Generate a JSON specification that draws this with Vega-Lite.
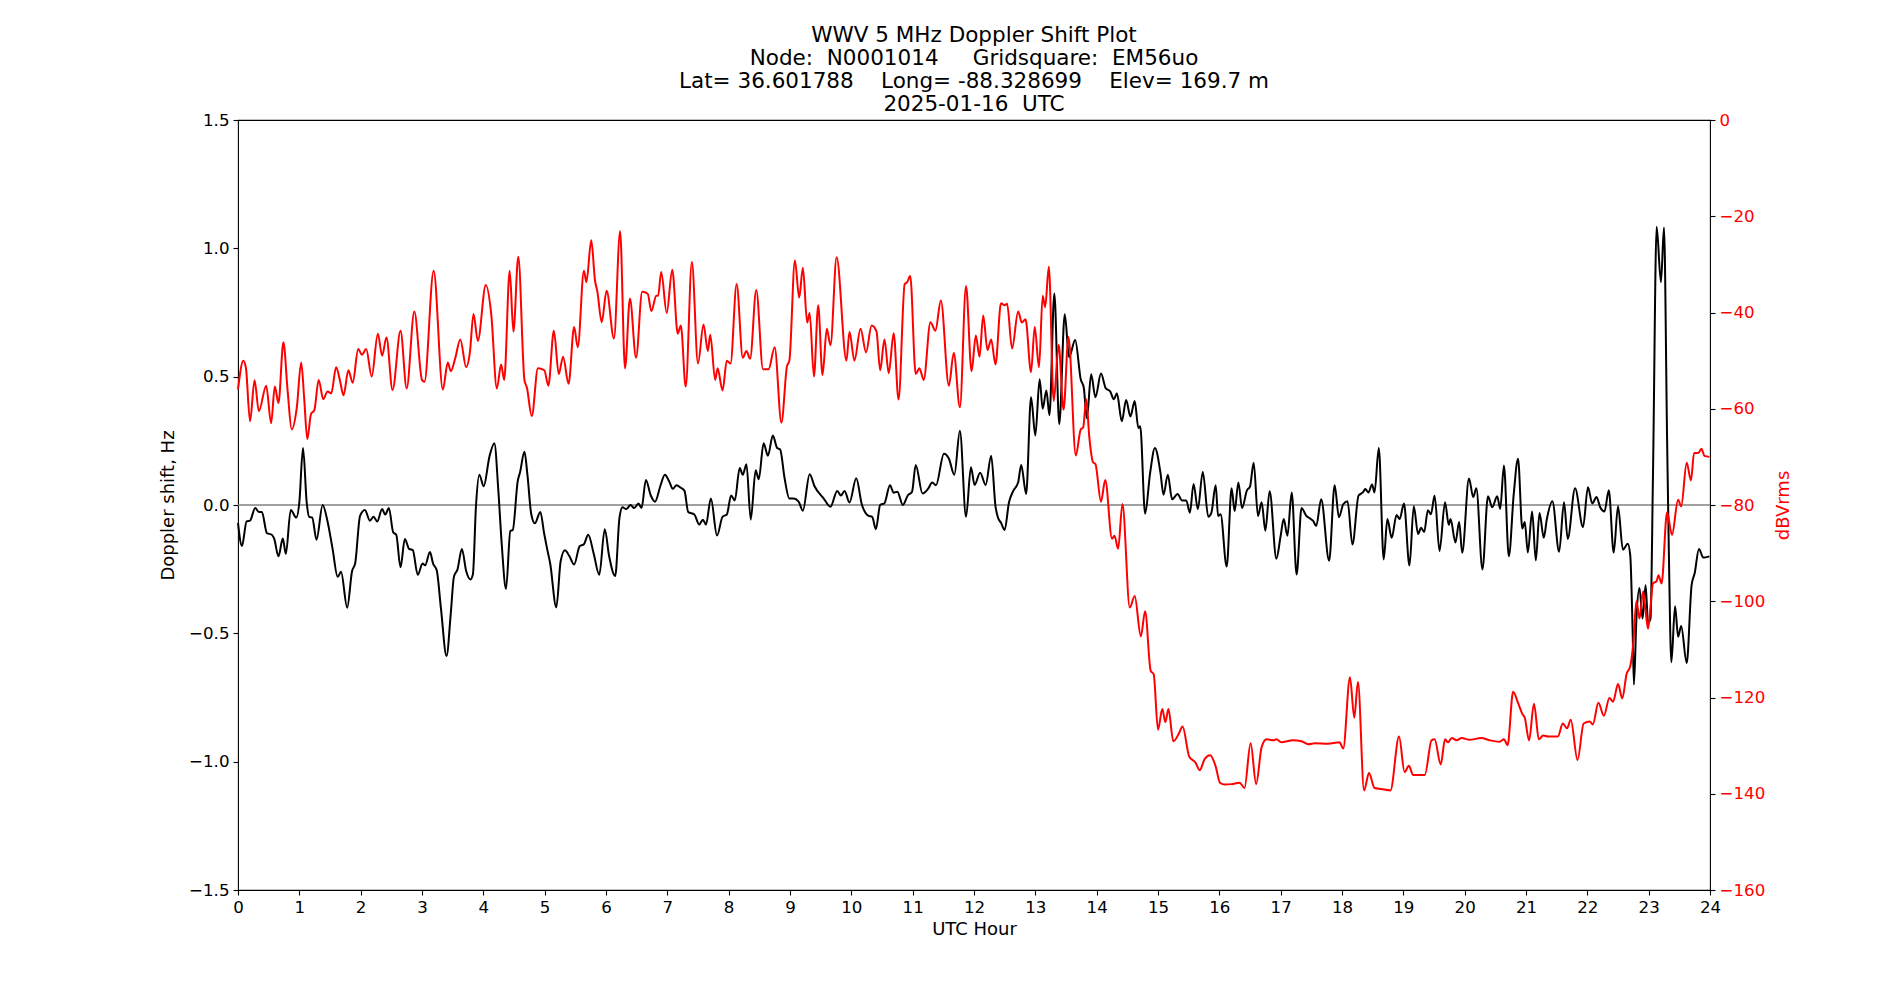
{
  "$schema": "https://vega.github.io/schema/vega-lite/v6.json",
  "width": 1472,
  "height": 770,
  "autosize": {"type": "none"},
  "padding": {"left": 238, "top": 120, "right": 190, "bottom": 110},
  "background": "white",
  "title": {
    "text": ["WWV 5 MHz Doppler Shift Plot", "Node:\u00a0\u00a0N0001014\u00a0\u00a0\u00a0\u00a0\u00a0Gridsquare:\u00a0\u00a0EM56uo", "Lat=\u00a036.601788\u00a0\u00a0\u00a0\u00a0Long=\u00a0-88.328699\u00a0\u00a0\u00a0\u00a0Elev=\u00a0169.7\u00a0m", "2025-01-16\u00a0\u00a0UTC"],
    "font": "DejaVu Sans",
    "fontSize": 21.5,
    "fontWeight": "normal",
    "color": "black",
    "lineHeight": 23,
    "anchor": "middle",
    "frame": "group",
    "baseline": "bottom",
    "offset": 4,
    "dy": 29
  },
  "config": {
    "view": {"stroke": "black", "strokeWidth": 1.1},
    "axis": {
      "labelFont": "DejaVu Sans",
      "labelFontSize": 16.67,
      "labelColor": "black",
      "titleFont": "DejaVu Sans",
      "titleFontSize": 18,
      "titleFontWeight": "normal",
      "titleColor": "black",
      "tickColor": "black",
      "tickSize": 5,
      "tickWidth": 1.1,
      "labelPadding": 4,
      "grid": false,
      "domain": false
    }
  },
  "datasets": {
    "doppler": [
      {"hour": 0, "shift": -0.07}, {"hour": 0.065, "shift": -0.16}, {"hour": 0.14, "shift": -0.064}, {"hour": 0.196, "shift": -0.061},
      {"hour": 0.28, "shift": -0.012}, {"hour": 0.34, "shift": -0.027}, {"hour": 0.39, "shift": -0.027}, {"hour": 0.47, "shift": -0.109},
      {"hour": 0.55, "shift": -0.116}, {"hour": 0.59, "shift": -0.131}, {"hour": 0.66, "shift": -0.2}, {"hour": 0.73, "shift": -0.131},
      {"hour": 0.78, "shift": -0.19}, {"hour": 0.86, "shift": -0.019}, {"hour": 0.95, "shift": -0.049}, {"hour": 1.0, "shift": 0.01},
      {"hour": 1.06, "shift": 0.222}, {"hour": 1.12, "shift": 0.01}, {"hour": 1.16, "shift": -0.046}, {"hour": 1.21, "shift": -0.049},
      {"hour": 1.28, "shift": -0.135}, {"hour": 1.38, "shift": 0.0}, {"hour": 1.46, "shift": -0.064}, {"hour": 1.54, "shift": -0.168},
      {"hour": 1.625, "shift": -0.28}, {"hour": 1.68, "shift": -0.26}, {"hour": 1.78, "shift": -0.4}, {"hour": 1.86, "shift": -0.257},
      {"hour": 1.91, "shift": -0.228}, {"hour": 1.99, "shift": -0.042}, {"hour": 2.07, "shift": -0.019}, {"hour": 2.15, "shift": -0.061},
      {"hour": 2.21, "shift": -0.046}, {"hour": 2.27, "shift": -0.064}, {"hour": 2.35, "shift": -0.016}, {"hour": 2.4, "shift": -0.037},
      {"hour": 2.46, "shift": -0.012}, {"hour": 2.53, "shift": -0.106}, {"hour": 2.58, "shift": -0.116}, {"hour": 2.65, "shift": -0.243},
      {"hour": 2.72, "shift": -0.132}, {"hour": 2.79, "shift": -0.171}, {"hour": 2.85, "shift": -0.176}, {"hour": 2.93, "shift": -0.272},
      {"hour": 3.01, "shift": -0.228}, {"hour": 3.05, "shift": -0.235}, {"hour": 3.13, "shift": -0.183}, {"hour": 3.18, "shift": -0.228},
      {"hour": 3.24, "shift": -0.254}, {"hour": 3.31, "shift": -0.406}, {"hour": 3.4, "shift": -0.588}, {"hour": 3.47, "shift": -0.42},
      {"hour": 3.52, "shift": -0.28}, {"hour": 3.58, "shift": -0.25}, {"hour": 3.65, "shift": -0.171}, {"hour": 3.72, "shift": -0.257},
      {"hour": 3.79, "shift": -0.29}, {"hour": 3.83, "shift": -0.27}, {"hour": 3.88, "shift": -0.004}, {"hour": 3.935, "shift": 0.118},
      {"hour": 4.006, "shift": 0.073}, {"hour": 4.1, "shift": 0.189}, {"hour": 4.18, "shift": 0.241}, {"hour": 4.245, "shift": 0.055},
      {"hour": 4.3, "shift": -0.153}, {"hour": 4.37, "shift": -0.327}, {"hour": 4.44, "shift": -0.101}, {"hour": 4.48, "shift": -0.097},
      {"hour": 4.56, "shift": 0.092}, {"hour": 4.6, "shift": 0.129}, {"hour": 4.67, "shift": 0.207}, {"hour": 4.72, "shift": 0.115},
      {"hour": 4.78, "shift": -0.034}, {"hour": 4.84, "shift": -0.071}, {"hour": 4.93, "shift": -0.027}, {"hour": 4.99, "shift": -0.109},
      {"hour": 5.04, "shift": -0.171}, {"hour": 5.09, "shift": -0.228}, {"hour": 5.19, "shift": -0.399}, {"hour": 5.26, "shift": -0.22},
      {"hour": 5.33, "shift": -0.176}, {"hour": 5.4, "shift": -0.198}, {"hour": 5.48, "shift": -0.232}, {"hour": 5.57, "shift": -0.161},
      {"hour": 5.64, "shift": -0.153}, {"hour": 5.71, "shift": -0.116}, {"hour": 5.8, "shift": -0.19}, {"hour": 5.89, "shift": -0.272},
      {"hour": 5.98, "shift": -0.094}, {"hour": 6.05, "shift": -0.198}, {"hour": 6.15, "shift": -0.277}, {"hour": 6.22, "shift": -0.049},
      {"hour": 6.27, "shift": -0.009}, {"hour": 6.33, "shift": -0.016}, {"hour": 6.4, "shift": 0.0}, {"hour": 6.46, "shift": -0.012},
      {"hour": 6.53, "shift": 0.006}, {"hour": 6.58, "shift": -0.012}, {"hour": 6.65, "shift": 0.097}, {"hour": 6.73, "shift": 0.037},
      {"hour": 6.8, "shift": 0.013}, {"hour": 6.89, "shift": 0.077}, {"hour": 6.96, "shift": 0.118}, {"hour": 7.03, "shift": 0.092},
      {"hour": 7.09, "shift": 0.063}, {"hour": 7.15, "shift": 0.077}, {"hour": 7.22, "shift": 0.067}, {"hour": 7.28, "shift": 0.055},
      {"hour": 7.34, "shift": -0.027}, {"hour": 7.44, "shift": -0.037}, {"hour": 7.52, "shift": -0.076}, {"hour": 7.58, "shift": -0.057},
      {"hour": 7.63, "shift": -0.076}, {"hour": 7.71, "shift": 0.025}, {"hour": 7.81, "shift": -0.119}, {"hour": 7.9, "shift": -0.046},
      {"hour": 7.97, "shift": -0.037}, {"hour": 8.04, "shift": 0.037}, {"hour": 8.1, "shift": 0.018}, {"hour": 8.18, "shift": 0.144},
      {"hour": 8.23, "shift": 0.118}, {"hour": 8.29, "shift": 0.159}, {"hour": 8.36, "shift": -0.057}, {"hour": 8.44, "shift": 0.135},
      {"hour": 8.49, "shift": 0.1}, {"hour": 8.57, "shift": 0.241}, {"hour": 8.64, "shift": 0.192}, {"hour": 8.72, "shift": 0.271},
      {"hour": 8.79, "shift": 0.222}, {"hour": 8.84, "shift": 0.216}, {"hour": 8.91, "shift": 0.107}, {"hour": 8.99, "shift": 0.025},
      {"hour": 9.06, "shift": 0.025}, {"hour": 9.14, "shift": 0.013}, {"hour": 9.21, "shift": -0.022}, {"hour": 9.32, "shift": 0.12},
      {"hour": 9.4, "shift": 0.073}, {"hour": 9.55, "shift": 0.025}, {"hour": 9.66, "shift": -0.007}, {"hour": 9.77, "shift": 0.055},
      {"hour": 9.83, "shift": 0.037}, {"hour": 9.89, "shift": 0.055}, {"hour": 9.97, "shift": 0.01}, {"hour": 10.08, "shift": 0.104},
      {"hour": 10.17, "shift": 0.003}, {"hour": 10.28, "shift": -0.042}, {"hour": 10.34, "shift": -0.046}, {"hour": 10.4, "shift": -0.094},
      {"hour": 10.47, "shift": 0.0}, {"hour": 10.54, "shift": 0.007}, {"hour": 10.63, "shift": 0.077}, {"hour": 10.69, "shift": 0.048},
      {"hour": 10.75, "shift": 0.052}, {"hour": 10.84, "shift": 0.0}, {"hour": 10.92, "shift": 0.037}, {"hour": 10.99, "shift": 0.052},
      {"hour": 11.05, "shift": 0.156}, {"hour": 11.16, "shift": 0.045}, {"hour": 11.25, "shift": 0.063}, {"hour": 11.32, "shift": 0.088},
      {"hour": 11.38, "shift": 0.077}, {"hour": 11.51, "shift": 0.2}, {"hour": 11.59, "shift": 0.181}, {"hour": 11.68, "shift": 0.118},
      {"hour": 11.77, "shift": 0.289}, {"hour": 11.87, "shift": -0.046}, {"hour": 11.95, "shift": 0.147}, {"hour": 12.01, "shift": 0.078},
      {"hour": 12.1, "shift": 0.126}, {"hour": 12.19, "shift": 0.078}, {"hour": 12.28, "shift": 0.192}, {"hour": 12.35, "shift": -0.004},
      {"hour": 12.39, "shift": -0.049}, {"hour": 12.44, "shift": -0.069}, {"hour": 12.5, "shift": -0.097}, {"hour": 12.57, "shift": 0.01},
      {"hour": 12.64, "shift": 0.055}, {"hour": 12.72, "shift": 0.089}, {"hour": 12.77, "shift": 0.156}, {"hour": 12.85, "shift": 0.043},
      {"hour": 12.93, "shift": 0.42}, {"hour": 13.0, "shift": 0.271}, {"hour": 13.07, "shift": 0.49}, {"hour": 13.12, "shift": 0.375},
      {"hour": 13.18, "shift": 0.446}, {"hour": 13.23, "shift": 0.35}, {"hour": 13.31, "shift": 0.824}, {"hour": 13.39, "shift": 0.315},
      {"hour": 13.48, "shift": 0.743}, {"hour": 13.55, "shift": 0.576}, {"hour": 13.65, "shift": 0.643}, {"hour": 13.74, "shift": 0.49},
      {"hour": 13.79, "shift": 0.457}, {"hour": 13.84, "shift": 0.338}, {"hour": 13.91, "shift": 0.509}, {"hour": 13.98, "shift": 0.42},
      {"hour": 14.07, "shift": 0.512}, {"hour": 14.15, "shift": 0.454}, {"hour": 14.22, "shift": 0.443}, {"hour": 14.28, "shift": 0.412},
      {"hour": 14.33, "shift": 0.435}, {"hour": 14.41, "shift": 0.326}, {"hour": 14.48, "shift": 0.409}, {"hour": 14.55, "shift": 0.345},
      {"hour": 14.62, "shift": 0.405}, {"hour": 14.68, "shift": 0.3}, {"hour": 14.71, "shift": 0.307}, {"hour": 14.79, "shift": -0.034},
      {"hour": 14.87, "shift": 0.122}, {"hour": 14.95, "shift": 0.222}, {"hour": 15.04, "shift": 0.126}, {"hour": 15.09, "shift": 0.04},
      {"hour": 15.16, "shift": 0.118}, {"hour": 15.23, "shift": 0.022}, {"hour": 15.32, "shift": 0.043}, {"hour": 15.39, "shift": 0.018},
      {"hour": 15.46, "shift": 0.018}, {"hour": 15.52, "shift": -0.03}, {"hour": 15.58, "shift": 0.082}, {"hour": 15.65, "shift": -0.016},
      {"hour": 15.73, "shift": 0.129}, {"hour": 15.82, "shift": -0.046}, {"hour": 15.87, "shift": -0.031}, {"hour": 15.94, "shift": 0.077},
      {"hour": 15.98, "shift": -0.043}, {"hour": 16.02, "shift": -0.036}, {"hour": 16.12, "shift": -0.24}, {"hour": 16.2, "shift": 0.065},
      {"hour": 16.25, "shift": -0.023}, {"hour": 16.31, "shift": 0.088}, {"hour": 16.37, "shift": -0.012}, {"hour": 16.45, "shift": 0.057},
      {"hour": 16.5, "shift": 0.072}, {"hour": 16.56, "shift": 0.165}, {"hour": 16.63, "shift": -0.043}, {"hour": 16.69, "shift": 0.011},
      {"hour": 16.75, "shift": -0.1}, {"hour": 16.82, "shift": 0.054}, {"hour": 16.93, "shift": -0.209}, {"hour": 17.0, "shift": -0.12},
      {"hour": 17.05, "shift": -0.055}, {"hour": 17.11, "shift": -0.12}, {"hour": 17.18, "shift": 0.049}, {"hour": 17.26, "shift": -0.271},
      {"hour": 17.34, "shift": -0.012}, {"hour": 17.42, "shift": -0.043}, {"hour": 17.47, "shift": -0.051}, {"hour": 17.53, "shift": -0.062},
      {"hour": 17.58, "shift": -0.082}, {"hour": 17.66, "shift": 0.022}, {"hour": 17.79, "shift": -0.217}, {"hour": 17.88, "shift": 0.077},
      {"hour": 17.95, "shift": -0.048}, {"hour": 18.02, "shift": 0.003}, {"hour": 18.09, "shift": 0.015}, {"hour": 18.17, "shift": -0.154},
      {"hour": 18.27, "shift": 0.037}, {"hour": 18.34, "shift": 0.049}, {"hour": 18.38, "shift": 0.062}, {"hour": 18.43, "shift": 0.049},
      {"hour": 18.49, "shift": 0.08}, {"hour": 18.53, "shift": 0.049}, {"hour": 18.6, "shift": 0.222}, {"hour": 18.68, "shift": -0.212},
      {"hour": 18.74, "shift": -0.055}, {"hour": 18.81, "shift": -0.128}, {"hour": 18.89, "shift": -0.039}, {"hour": 18.94, "shift": -0.055},
      {"hour": 19.01, "shift": 0.006}, {"hour": 19.1, "shift": -0.236}, {"hour": 19.17, "shift": -0.005}, {"hour": 19.24, "shift": -0.113},
      {"hour": 19.29, "shift": -0.089}, {"hour": 19.34, "shift": -0.105}, {"hour": 19.4, "shift": -0.02}, {"hour": 19.45, "shift": -0.036},
      {"hour": 19.51, "shift": 0.037}, {"hour": 19.59, "shift": -0.179}, {"hour": 19.68, "shift": 0.011}, {"hour": 19.74, "shift": -0.077},
      {"hour": 19.77, "shift": -0.055}, {"hour": 19.85, "shift": -0.146}, {"hour": 19.91, "shift": -0.066}, {"hour": 19.96, "shift": -0.186},
      {"hour": 20.07, "shift": 0.103}, {"hour": 20.14, "shift": 0.031}, {"hour": 20.19, "shift": 0.065}, {"hour": 20.29, "shift": -0.251},
      {"hour": 20.38, "shift": 0.034}, {"hour": 20.45, "shift": -0.009}, {"hour": 20.53, "shift": 0.034}, {"hour": 20.58, "shift": -0.015},
      {"hour": 20.64, "shift": 0.154}, {"hour": 20.72, "shift": -0.2}, {"hour": 20.8, "shift": 0.042}, {"hour": 20.87, "shift": 0.18},
      {"hour": 20.94, "shift": -0.092}, {"hour": 20.98, "shift": -0.066}, {"hour": 21.03, "shift": -0.185}, {"hour": 21.1, "shift": -0.025},
      {"hour": 21.16, "shift": -0.216}, {"hour": 21.22, "shift": -0.031}, {"hour": 21.29, "shift": -0.128}, {"hour": 21.34, "shift": -0.055},
      {"hour": 21.43, "shift": 0.015}, {"hour": 21.54, "shift": -0.182}, {"hour": 21.62, "shift": 0.011}, {"hour": 21.68, "shift": -0.132},
      {"hour": 21.8, "shift": 0.065}, {"hour": 21.93, "shift": -0.086}, {"hour": 22.01, "shift": 0.069}, {"hour": 22.08, "shift": 0.006},
      {"hour": 22.15, "shift": 0.031}, {"hour": 22.21, "shift": -0.009}, {"hour": 22.28, "shift": -0.025}, {"hour": 22.35, "shift": 0.057},
      {"hour": 22.43, "shift": -0.186}, {"hour": 22.5, "shift": -0.005}, {"hour": 22.58, "shift": -0.174}, {"hour": 22.66, "shift": -0.151},
      {"hour": 22.7, "shift": -0.197}, {"hour": 22.74, "shift": -0.505}, {"hour": 22.76, "shift": -0.7}, {"hour": 22.8, "shift": -0.443},
      {"hour": 22.85, "shift": -0.323}, {"hour": 22.9, "shift": -0.443}, {"hour": 22.95, "shift": -0.313}, {"hour": 22.99, "shift": -0.459},
      {"hour": 23.03, "shift": -0.443}, {"hour": 23.07, "shift": 0.111}, {"hour": 23.13, "shift": 1.084}, {"hour": 23.2, "shift": 0.868},
      {"hour": 23.25, "shift": 1.081}, {"hour": 23.3, "shift": 0.265}, {"hour": 23.33, "shift": -0.197}, {"hour": 23.37, "shift": -0.613},
      {"hour": 23.43, "shift": -0.394}, {"hour": 23.48, "shift": -0.513}, {"hour": 23.53, "shift": -0.471}, {"hour": 23.62, "shift": -0.616},
      {"hour": 23.7, "shift": -0.312}, {"hour": 23.75, "shift": -0.266}, {"hour": 23.82, "shift": -0.171}, {"hour": 23.89, "shift": -0.205},
      {"hour": 23.99, "shift": -0.2}
    ],
    "power": [
      {"hour": 0, "dbv": -56}, {"hour": 0.087, "dbv": -50}, {"hour": 0.13, "dbv": -51.6}, {"hour": 0.196, "dbv": -62.6},
      {"hour": 0.27, "dbv": -54.1}, {"hour": 0.34, "dbv": -60.5}, {"hour": 0.46, "dbv": -55.2}, {"hour": 0.54, "dbv": -63},
      {"hour": 0.6, "dbv": -55.4}, {"hour": 0.66, "dbv": -58.8}, {"hour": 0.74, "dbv": -46.2}, {"hour": 0.81, "dbv": -56.4},
      {"hour": 0.875, "dbv": -64.3}, {"hour": 0.96, "dbv": -59.6}, {"hour": 1.03, "dbv": -50.4}, {"hour": 1.08, "dbv": -58},
      {"hour": 1.13, "dbv": -66.3}, {"hour": 1.19, "dbv": -61.1}, {"hour": 1.245, "dbv": -60.3}, {"hour": 1.315, "dbv": -54},
      {"hour": 1.39, "dbv": -58}, {"hour": 1.46, "dbv": -56.4}, {"hour": 1.52, "dbv": -56.8}, {"hour": 1.6, "dbv": -51.4},
      {"hour": 1.66, "dbv": -54}, {"hour": 1.72, "dbv": -57.2}, {"hour": 1.8, "dbv": -52}, {"hour": 1.87, "dbv": -54.6},
      {"hour": 1.96, "dbv": -47.6}, {"hour": 2.02, "dbv": -48.8}, {"hour": 2.09, "dbv": -47.6}, {"hour": 2.18, "dbv": -53.3},
      {"hour": 2.28, "dbv": -44.4}, {"hour": 2.35, "dbv": -49}, {"hour": 2.42, "dbv": -45.2}, {"hour": 2.52, "dbv": -56.1},
      {"hour": 2.65, "dbv": -43.8}, {"hour": 2.75, "dbv": -55.8}, {"hour": 2.875, "dbv": -39.8}, {"hour": 3.0, "dbv": -54},
      {"hour": 3.04, "dbv": -54.4}, {"hour": 3.19, "dbv": -31.3}, {"hour": 3.34, "dbv": -56}, {"hour": 3.42, "dbv": -50.4},
      {"hour": 3.47, "dbv": -52.2}, {"hour": 3.54, "dbv": -49.6}, {"hour": 3.625, "dbv": -45.6}, {"hour": 3.72, "dbv": -51.4},
      {"hour": 3.78, "dbv": -48.4}, {"hour": 3.84, "dbv": -40.3}, {"hour": 3.91, "dbv": -45.9}, {"hour": 4.04, "dbv": -34.3},
      {"hour": 4.13, "dbv": -40.5}, {"hour": 4.22, "dbv": -55.8}, {"hour": 4.29, "dbv": -50.8}, {"hour": 4.34, "dbv": -54},
      {"hour": 4.43, "dbv": -31.3}, {"hour": 4.49, "dbv": -44}, {"hour": 4.57, "dbv": -28.4}, {"hour": 4.67, "dbv": -54},
      {"hour": 4.71, "dbv": -55.6}, {"hour": 4.79, "dbv": -61.5}, {"hour": 4.89, "dbv": -51.6}, {"hour": 4.995, "dbv": -52},
      {"hour": 5.06, "dbv": -55.2}, {"hour": 5.15, "dbv": -43.8}, {"hour": 5.23, "dbv": -52.8}, {"hour": 5.3, "dbv": -49.2},
      {"hour": 5.39, "dbv": -54.8}, {"hour": 5.48, "dbv": -43}, {"hour": 5.54, "dbv": -47.2}, {"hour": 5.64, "dbv": -31.3},
      {"hour": 5.68, "dbv": -33.7}, {"hour": 5.76, "dbv": -25}, {"hour": 5.82, "dbv": -33.3}, {"hour": 5.86, "dbv": -35.7},
      {"hour": 5.93, "dbv": -42}, {"hour": 6.01, "dbv": -35.5}, {"hour": 6.13, "dbv": -45.4}, {"hour": 6.23, "dbv": -23.1},
      {"hour": 6.31, "dbv": -51.6}, {"hour": 6.39, "dbv": -37.1}, {"hour": 6.49, "dbv": -49.4}, {"hour": 6.59, "dbv": -35.7},
      {"hour": 6.68, "dbv": -36.1}, {"hour": 6.74, "dbv": -39.7}, {"hour": 6.82, "dbv": -36.5}, {"hour": 6.85, "dbv": -36.5},
      {"hour": 6.9, "dbv": -31.6}, {"hour": 6.99, "dbv": -40.1}, {"hour": 7.08, "dbv": -31.1}, {"hour": 7.17, "dbv": -44.4},
      {"hour": 7.22, "dbv": -42.7}, {"hour": 7.3, "dbv": -55.4}, {"hour": 7.4, "dbv": -29.5}, {"hour": 7.5, "dbv": -50.6},
      {"hour": 7.59, "dbv": -42.5}, {"hour": 7.66, "dbv": -48}, {"hour": 7.7, "dbv": -44.6}, {"hour": 7.78, "dbv": -54},
      {"hour": 7.82, "dbv": -51.6}, {"hour": 7.9, "dbv": -56.2}, {"hour": 7.97, "dbv": -50}, {"hour": 8.03, "dbv": -50.6},
      {"hour": 8.13, "dbv": -34.1}, {"hour": 8.23, "dbv": -49.4}, {"hour": 8.29, "dbv": -48}, {"hour": 8.35, "dbv": -49.6},
      {"hour": 8.45, "dbv": -35.3}, {"hour": 8.56, "dbv": -51.8}, {"hour": 8.65, "dbv": -51.8}, {"hour": 8.75, "dbv": -47.2},
      {"hour": 8.86, "dbv": -62.9}, {"hour": 8.95, "dbv": -51.2}, {"hour": 8.99, "dbv": -50}, {"hour": 9.08, "dbv": -29.2},
      {"hour": 9.15, "dbv": -36.9}, {"hour": 9.21, "dbv": -30.7}, {"hour": 9.28, "dbv": -42.1}, {"hour": 9.32, "dbv": -40.1},
      {"hour": 9.39, "dbv": -53.3}, {"hour": 9.46, "dbv": -38.5}, {"hour": 9.53, "dbv": -53}, {"hour": 9.6, "dbv": -43.4},
      {"hour": 9.66, "dbv": -46.8}, {"hour": 9.76, "dbv": -28.5}, {"hour": 9.92, "dbv": -50}, {"hour": 9.97, "dbv": -44},
      {"hour": 10.05, "dbv": -50}, {"hour": 10.15, "dbv": -43.4}, {"hour": 10.24, "dbv": -48.3}, {"hour": 10.33, "dbv": -42.7},
      {"hour": 10.41, "dbv": -43.9}, {"hour": 10.47, "dbv": -52}, {"hour": 10.54, "dbv": -45.6}, {"hour": 10.61, "dbv": -52.6},
      {"hour": 10.69, "dbv": -44.3}, {"hour": 10.77, "dbv": -58.1}, {"hour": 10.87, "dbv": -34.1}, {"hour": 10.91, "dbv": -33.7},
      {"hour": 10.96, "dbv": -32.4}, {"hour": 11.05, "dbv": -52.8}, {"hour": 11.11, "dbv": -51.6}, {"hour": 11.18, "dbv": -54},
      {"hour": 11.29, "dbv": -42}, {"hour": 11.37, "dbv": -43.8}, {"hour": 11.46, "dbv": -37.5}, {"hour": 11.59, "dbv": -55.2},
      {"hour": 11.67, "dbv": -48.4}, {"hour": 11.77, "dbv": -59.7}, {"hour": 11.87, "dbv": -34.5}, {"hour": 11.96, "dbv": -52.2},
      {"hour": 12.03, "dbv": -44.8}, {"hour": 12.09, "dbv": -49.2}, {"hour": 12.15, "dbv": -40.6}, {"hour": 12.22, "dbv": -47.8},
      {"hour": 12.28, "dbv": -45.6}, {"hour": 12.35, "dbv": -50.8}, {"hour": 12.44, "dbv": -38.1}, {"hour": 12.5, "dbv": -38.5},
      {"hour": 12.54, "dbv": -38.2}, {"hour": 12.62, "dbv": -47.5}, {"hour": 12.72, "dbv": -39.8}, {"hour": 12.78, "dbv": -42.1},
      {"hour": 12.84, "dbv": -41.4}, {"hour": 12.93, "dbv": -52.4}, {"hour": 12.99, "dbv": -43}, {"hour": 13.06, "dbv": -51.4},
      {"hour": 13.12, "dbv": -36.5}, {"hour": 13.16, "dbv": -38.9}, {"hour": 13.22, "dbv": -30.5}, {"hour": 13.3, "dbv": -58.4},
      {"hour": 13.38, "dbv": -46.7}, {"hour": 13.46, "dbv": -60.2}, {"hour": 13.54, "dbv": -45.1}, {"hour": 13.66, "dbv": -69.7},
      {"hour": 13.74, "dbv": -64.3}, {"hour": 13.78, "dbv": -63.9}, {"hour": 13.83, "dbv": -58}, {"hour": 13.88, "dbv": -65.9},
      {"hour": 13.94, "dbv": -71.1}, {"hour": 13.98, "dbv": -71.5}, {"hour": 14.07, "dbv": -79.3}, {"hour": 14.14, "dbv": -74.8},
      {"hour": 14.25, "dbv": -87}, {"hour": 14.29, "dbv": -86.4}, {"hour": 14.35, "dbv": -89.1}, {"hour": 14.42, "dbv": -79.8},
      {"hour": 14.54, "dbv": -101.3}, {"hour": 14.62, "dbv": -98.9}, {"hour": 14.72, "dbv": -107.3}, {"hour": 14.79, "dbv": -102.1},
      {"hour": 14.88, "dbv": -114.4}, {"hour": 14.93, "dbv": -115.2}, {"hour": 15.0, "dbv": -126.7}, {"hour": 15.07, "dbv": -122.4},
      {"hour": 15.12, "dbv": -125.1}, {"hour": 15.17, "dbv": -122.4}, {"hour": 15.25, "dbv": -129.1}, {"hour": 15.34, "dbv": -127.5},
      {"hour": 15.4, "dbv": -126}, {"hour": 15.51, "dbv": -132.3}, {"hour": 15.61, "dbv": -133.5}, {"hour": 15.68, "dbv": -135.1},
      {"hour": 15.76, "dbv": -132.8}, {"hour": 15.85, "dbv": -132}, {"hour": 15.94, "dbv": -134.3}, {"hour": 16.01, "dbv": -137.7},
      {"hour": 16.09, "dbv": -138.1}, {"hour": 16.2, "dbv": -138}, {"hour": 16.33, "dbv": -137.7}, {"hour": 16.41, "dbv": -138.8},
      {"hour": 16.51, "dbv": -129.5}, {"hour": 16.6, "dbv": -138}, {"hour": 16.69, "dbv": -130.3}, {"hour": 16.77, "dbv": -128.7},
      {"hour": 16.88, "dbv": -128.9}, {"hour": 16.93, "dbv": -128.7}, {"hour": 17.01, "dbv": -129.3}, {"hour": 17.2, "dbv": -128.9},
      {"hour": 17.34, "dbv": -129.1}, {"hour": 17.45, "dbv": -129.7}, {"hour": 17.56, "dbv": -129.5}, {"hour": 17.77, "dbv": -129.6},
      {"hour": 17.96, "dbv": -129.3}, {"hour": 18.02, "dbv": -130.6}, {"hour": 18.13, "dbv": -115.8}, {"hour": 18.2, "dbv": -124.2},
      {"hour": 18.26, "dbv": -116.8}, {"hour": 18.36, "dbv": -139.3}, {"hour": 18.44, "dbv": -135.7}, {"hour": 18.53, "dbv": -138.8},
      {"hour": 18.64, "dbv": -139}, {"hour": 18.79, "dbv": -139.3}, {"hour": 18.93, "dbv": -128.1}, {"hour": 19.02, "dbv": -135.5},
      {"hour": 19.09, "dbv": -134.2}, {"hour": 19.16, "dbv": -136.1}, {"hour": 19.35, "dbv": -136.1}, {"hour": 19.46, "dbv": -128.9},
      {"hour": 19.51, "dbv": -128.7}, {"hour": 19.61, "dbv": -133.9}, {"hour": 19.68, "dbv": -128.7}, {"hour": 19.73, "dbv": -129.3},
      {"hour": 19.79, "dbv": -128.4}, {"hour": 19.87, "dbv": -128.9}, {"hour": 19.95, "dbv": -128.4}, {"hour": 20.08, "dbv": -128.8},
      {"hour": 20.27, "dbv": -128.4}, {"hour": 20.41, "dbv": -128.9}, {"hour": 20.57, "dbv": -129.2}, {"hour": 20.64, "dbv": -128.7},
      {"hour": 20.7, "dbv": -129.9}, {"hour": 20.79, "dbv": -118.8}, {"hour": 20.87, "dbv": -121.1}, {"hour": 20.94, "dbv": -123.4},
      {"hour": 20.98, "dbv": -124.2}, {"hour": 21.05, "dbv": -128.9}, {"hour": 21.13, "dbv": -121.3}, {"hour": 21.21, "dbv": -128.7},
      {"hour": 21.28, "dbv": -127.9}, {"hour": 21.36, "dbv": -128.1}, {"hour": 21.52, "dbv": -128.1}, {"hour": 21.6, "dbv": -125.4},
      {"hour": 21.67, "dbv": -126.4}, {"hour": 21.73, "dbv": -124.6}, {"hour": 21.84, "dbv": -133}, {"hour": 21.94, "dbv": -125.4},
      {"hour": 22.04, "dbv": -125}, {"hour": 22.09, "dbv": -125.6}, {"hour": 22.18, "dbv": -121.1}, {"hour": 22.27, "dbv": -123.8},
      {"hour": 22.36, "dbv": -120.1}, {"hour": 22.42, "dbv": -120.9}, {"hour": 22.5, "dbv": -117.2}, {"hour": 22.57, "dbv": -120.2},
      {"hour": 22.64, "dbv": -115.1}, {"hour": 22.7, "dbv": -113.5}, {"hour": 22.75, "dbv": -108.6}, {"hour": 22.8, "dbv": -100},
      {"hour": 22.85, "dbv": -103.6}, {"hour": 22.91, "dbv": -97.9}, {"hour": 22.95, "dbv": -102}, {"hour": 22.99, "dbv": -105.7},
      {"hour": 23.03, "dbv": -101.2}, {"hour": 23.07, "dbv": -96.3}, {"hour": 23.13, "dbv": -95.8}, {"hour": 23.16, "dbv": -94.6},
      {"hour": 23.21, "dbv": -96.3}, {"hour": 23.3, "dbv": -81.5}, {"hour": 23.38, "dbv": -86.2}, {"hour": 23.48, "dbv": -78.9},
      {"hour": 23.53, "dbv": -80.3}, {"hour": 23.62, "dbv": -71.2}, {"hour": 23.69, "dbv": -74.9}, {"hour": 23.74, "dbv": -69.2},
      {"hour": 23.81, "dbv": -69.2}, {"hour": 23.86, "dbv": -68.3}, {"hour": 23.91, "dbv": -69.8}, {"hour": 23.99, "dbv": -70}
    ]
  },
  "layer": [
    {
      "layer": [
        {
          "data": {"values": [{"level": 0}]},
          "mark": {"type": "rule", "color": "#808080", "strokeWidth": 1.3},
          "encoding": {
            "y": {"field": "level", "type": "quantitative"}
          }
        },
        {
          "data": {"name": "doppler"},
          "mark": {"type": "line", "color": "black", "strokeWidth": 2, "interpolate": "monotone"},
          "encoding": {
            "x": {
              "field": "hour", "type": "quantitative",
              "scale": {"domain": [0, 24], "nice": false, "zero": false},
              "axis": {"title": "UTC Hour", "values": [0,1,2,3,4,5,6,7,8,9,10,11,12,13,14,15,16,17,18,19,20,21,22,23,24], "format": "d", "labelFlush": false, "titlePadding": 5}
            },
            "y": {
              "field": "shift", "type": "quantitative",
              "scale": {"domain": [-1.5, 1.5], "nice": false, "zero": false},
              "axis": {"title": "Doppler shift, Hz", "orient": "left", "values": [-1.5, -1, -0.5, 0, 0.5, 1, 1.5], "format": ".1f", "titlePadding": 11}
            }
          }
        }
      ]
    },
    {
      "data": {"name": "power"},
      "mark": {"type": "line", "color": "red", "strokeWidth": 2, "interpolate": "monotone"},
      "encoding": {
        "x": {"field": "hour", "type": "quantitative", "scale": {"domain": [0, 24], "nice": false, "zero": false}},
        "y": {
          "field": "dbv", "type": "quantitative",
          "scale": {"domain": [-160, 0], "nice": false, "zero": false},
          "axis": {"title": "dBVrms", "orient": "right", "values": [0, -20, -40, -60, -80, -100, -120, -140, -160], "format": "d", "labelColor": "red", "titleColor": "red", "titleAngle": 270, "titleBaseline": "top", "titlePadding": 10}
        }
      }
    }
  ],
  "resolve": {"scale": {"y": "independent"}}
}
